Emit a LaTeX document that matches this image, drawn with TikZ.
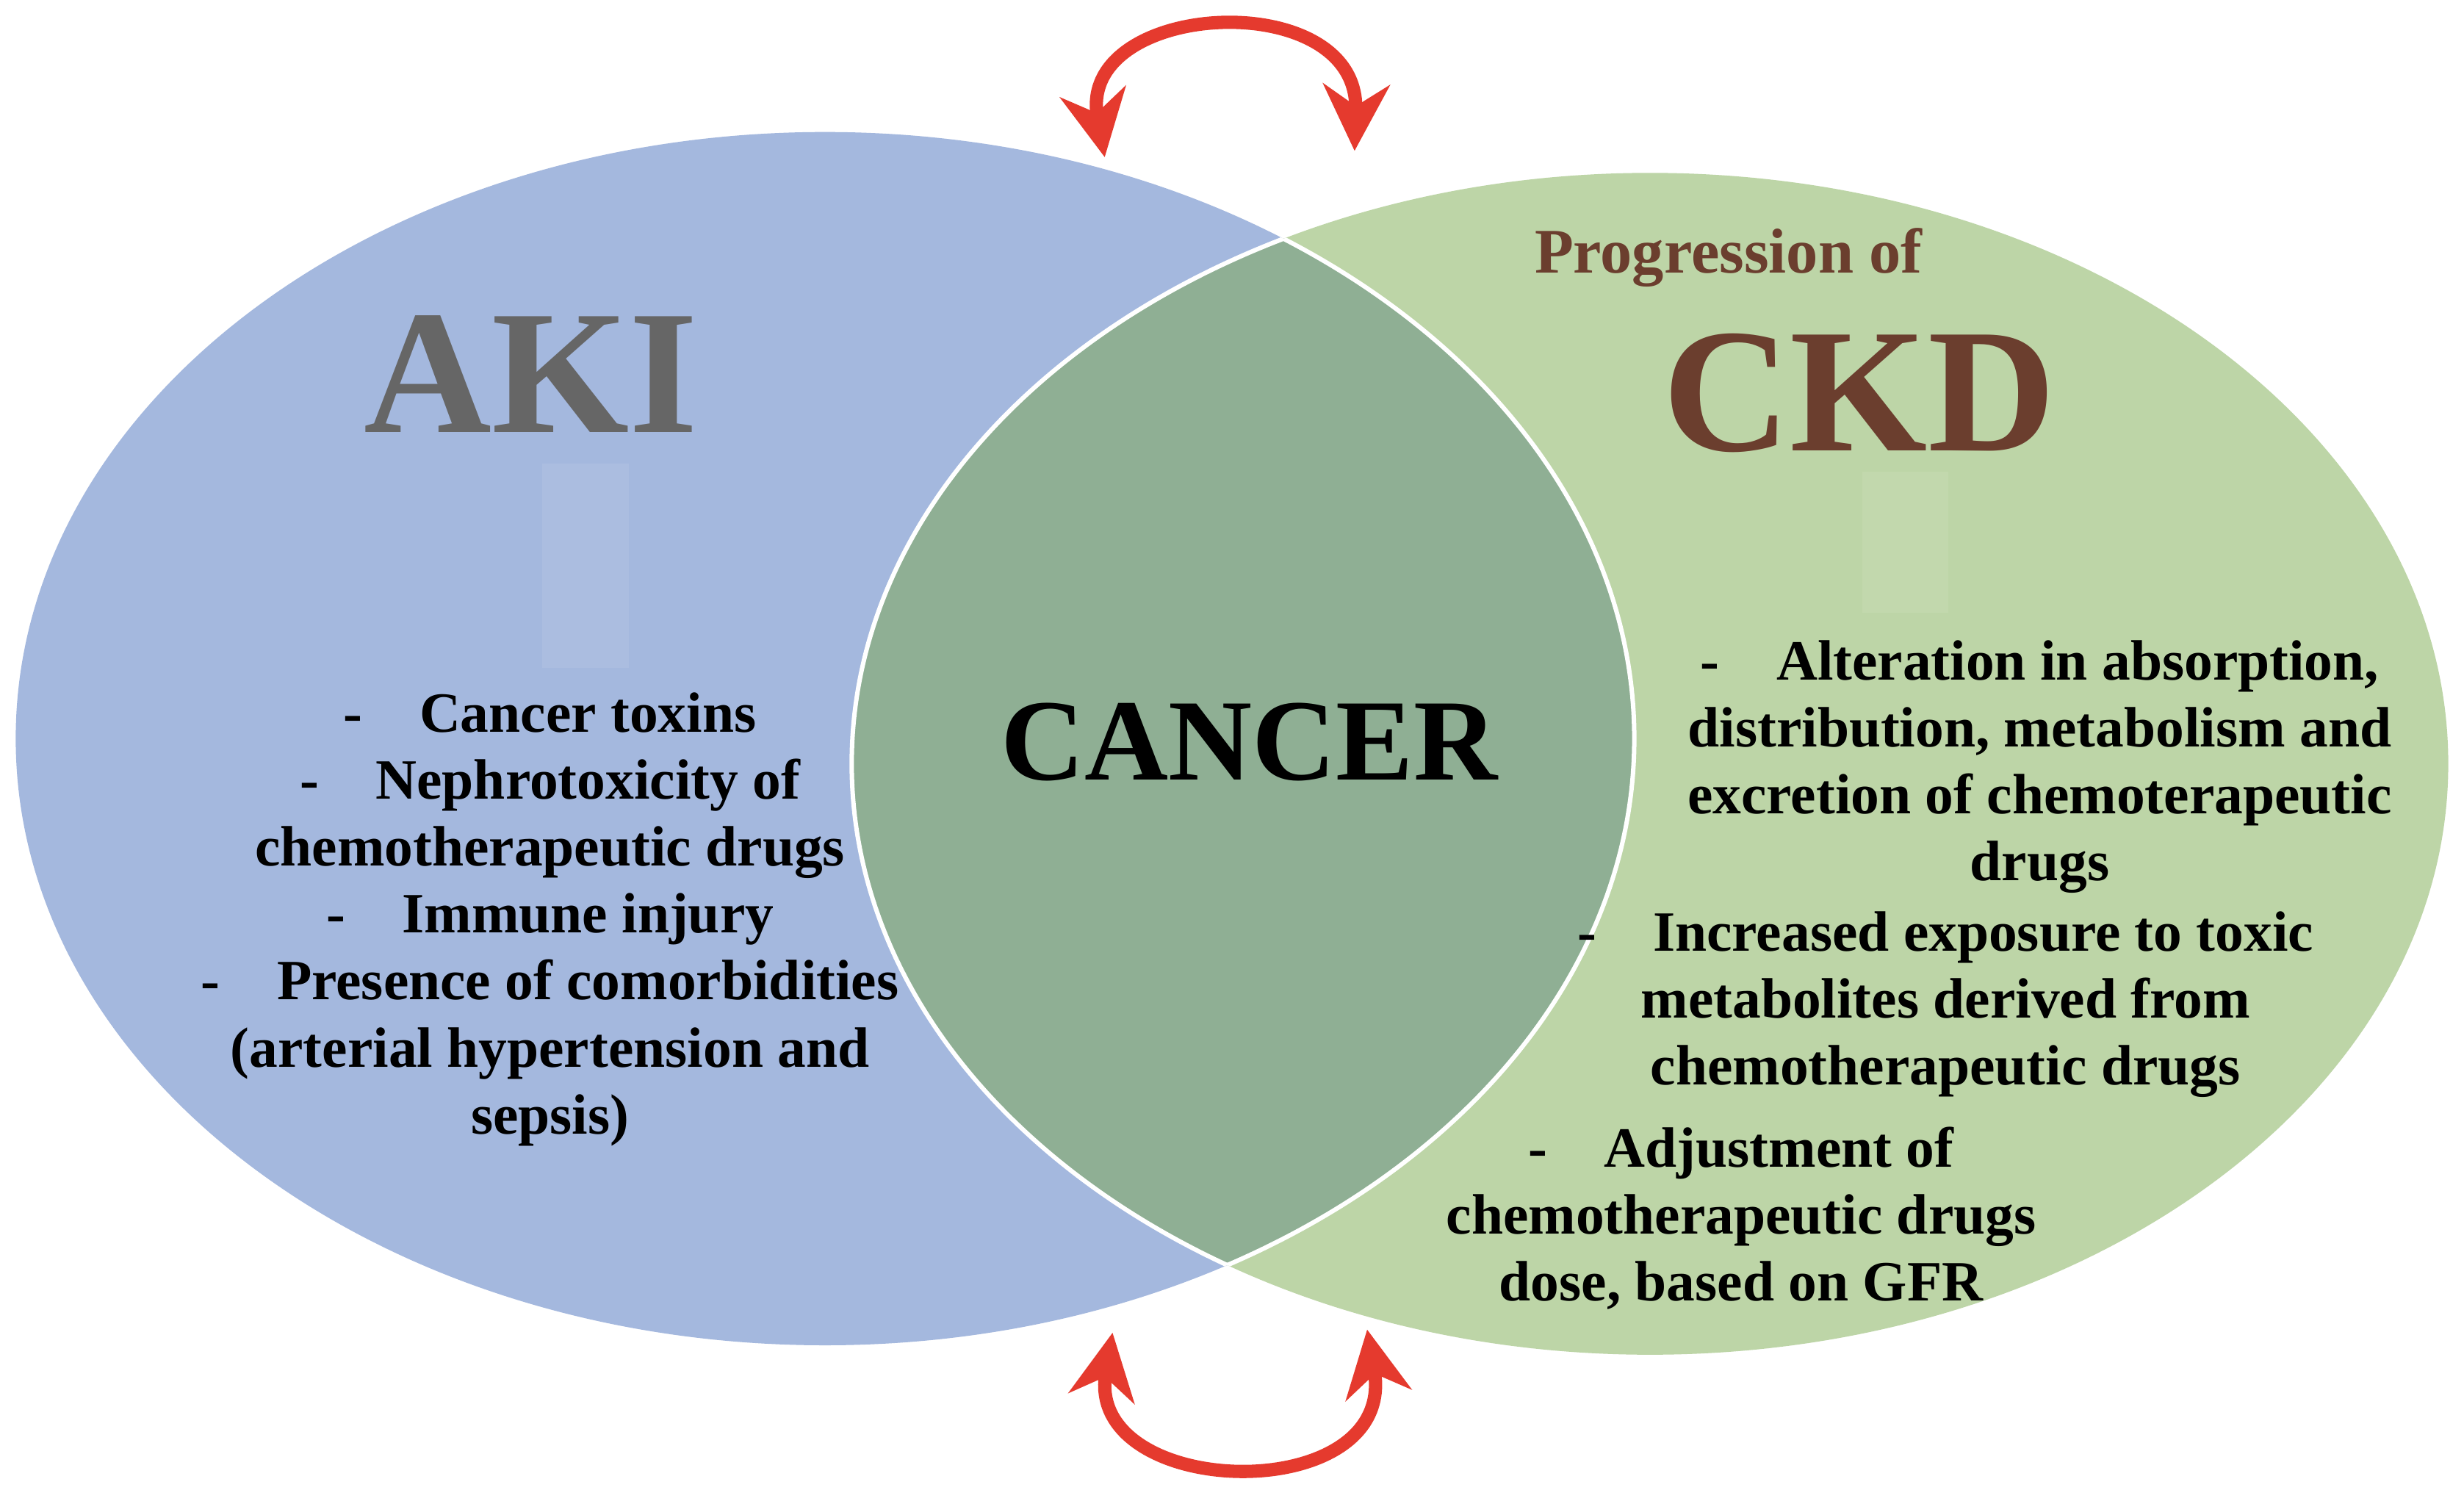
\documentclass[tikz,border=0pt]{standalone}
\usepackage{fontspec}
\setmainfont{Liberation Serif}
\usetikzlibrary{arrows.meta}
\definecolor{blueE}{HTML}{A4B8DE}
\definecolor{greenE}{HTML}{BDD5A7}
\definecolor{lensC}{HTML}{8FAF94}
\definecolor{akiC}{HTML}{666666}
\definecolor{ckdC}{HTML}{6B3E2E}
\definecolor{arrC}{HTML}{E53A2E}
\begin{document}
\begin{tikzpicture}[x=0.01cm,y=-0.01cm,
  lst/.style={align=center,font=\bfseries\fontsize{10.3}{12.1}\selectfont,inner sep=0pt},
  arr/.style={draw=arrC,line width=2.4pt,{Stealth[length=12pt,width=12pt]}-{Stealth[length=12pt,width=12pt]}}]
\useasboundingbox (0,0) rectangle (1568,948);
\fill[white] (0,0) rectangle (1568,948);
\fill[blueE] (525,470) ellipse [x radius=515, y radius=386];
\fill[greenE] (1050,486) ellipse [x radius=508, y radius=376];
\begin{scope}
\clip (525,470) ellipse [x radius=515, y radius=386];
\fill[lensC] (1050,486) ellipse [x radius=508, y radius=376];
\end{scope}
\begin{scope}
\clip (525,470) ellipse [x radius=515, y radius=386];
\draw[white,line width=0.8pt] (1050,486) ellipse [x radius=508, y radius=376];
\end{scope}
\begin{scope}
\clip (1050,486) ellipse [x radius=508, y radius=376];
\draw[white,line width=0.8pt] (525,470) ellipse [x radius=515, y radius=386];
\end{scope}
\fill[white,opacity=0.08] (345,295) rectangle (400,425);
\fill[white,opacity=0.08] (1185,300) rectangle (1240,390);
\node[font=\bfseries\fontsize{32}{38}\selectfont,text=akiC] (aki) at (338,238) {AKI};
\node[font=\bfseries\fontsize{11.5}{13}\selectfont,text=ckdC] (prog) at (1100,164) {Progression of};
\node[font=\bfseries\fontsize{32}{38}\selectfont,text=ckdC] (ckd) at (1183,250) {CKD};
\node[font=\bfseries\fontsize{21}{25}\selectfont] (cancer) at (795,472) {CANCER};
\node[lst] (l1) at (350,585) {-\quad Cancer toxins\\-\quad Nephrotoxicity of\\chemotherapeutic drugs\\-\quad Immune injury\\-\quad Presence of comorbidities\\(arterial hypertension and\\sepsis)};
\node[lst] (r1) at (1298,488) {-\quad Alteration in absorption,\\distribution, metabolism and\\excretion of chemoterapeutic\\drugs};
\node[lst] (r2) at (1238,639) {-\quad Increased exposure to toxic\\metabolites derived from\\chemotherapeutic drugs};
\node[lst] (r3) at (1108,775) {-\quad Adjustment of\\chemotherapeutic drugs\\dose, based on GFR};
\coordinate (ta) at (703,100);
\coordinate (tb) at (862,96);
\coordinate (ba) at (708,848);
\coordinate (bb) at (870,846);
\draw[arr] (ta) .. controls (685,0) and (865,-10) .. (tb);
\draw[arr] (ba) .. controls (690,955) and (890,960) .. (bb);
\end{tikzpicture}
\end{document}
